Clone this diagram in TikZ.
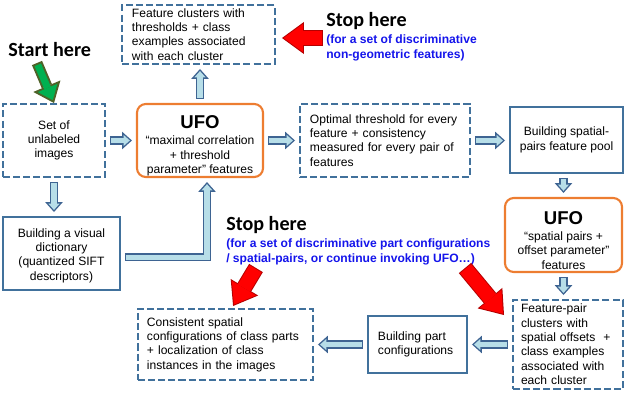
\documentclass[tikz,border=0pt]{standalone}
\usepackage{fontspec}
\setmainfont{Liberation Sans}
\newfontfamily\calibri{Carlito}
\usetikzlibrary{arrows.meta,positioning}
\definecolor{boxblue}{RGB}{65,113,156}
\definecolor{ufoorange}{RGB}{237,125,49}
\definecolor{flowfill}{RGB}{183,222,232}
\definecolor{flowline}{RGB}{62,100,146}
\definecolor{noteblue}{RGB}{20,20,235}
\definecolor{stopred}{RGB}{255,0,0}
\definecolor{stopedge}{RGB}{180,0,0}
\definecolor{startgreen}{RGB}{0,176,80}
\definecolor{startedge}{RGB}{79,98,40}

\begin{document}
\begin{tikzpicture}[x=0.25mm, y=-0.25mm, every node/.style={font=\fontsize{8.6}{10.2}\selectfont, inner sep=0pt},
  dbox/.style={draw=boxblue, line width=1.4pt, dash pattern=on 5pt off 2.2pt},
  sbox/.style={draw=boxblue, line width=1.4pt},
  ufobox/.style={draw=ufoorange, line width=1.5pt, rounded corners=2.2mm, align=center},
  bigtxt/.style={font=\calibri\fontsize{14.3}{16}\selectfont\bfseries},
  notetxt/.style={font=\fontsize{8.6}{10.7}\selectfont\bfseries, text=noteblue, align=left},
  flow/.style={draw=flowline, line width=5.7pt, shorten <=1mm, shorten >=1mm, -{Triangle[length=7pt, width=12.5pt, line width=0pt]}, postaction={draw=flowfill, line width=3.7pt, shorten <=1mm+1pt, shorten >=1mm+1.5pt, -{Triangle[length=4.5pt, width=8pt, line width=0pt]}}},
  stoparr/.style={draw=stopedge, line width=11.4pt, -{Triangle[length=15.6pt, width=22.8pt, line width=0pt]}, postaction={draw=stopred, line width=10pt, shorten <=0.7pt, shorten >=1.2pt, -{Triangle[length=13.7pt, width=20pt, line width=0pt]}}},
  startarr/.style={draw=startedge, line width=7.8pt, -{Triangle[length=13pt, width=21pt, line width=0pt]}, postaction={draw=startgreen, line width=5pt, shorten <=1.4pt, shorten >=2.23pt, -{Triangle[length=9.4pt, width=15.1pt, line width=0pt]}}}]
	\useasboundingbox (0,0) rectangle (624,394);
	% boxes
	\node[dbox, minimum width=38.25mm, minimum height=14.75mm, text width=33.25mm, align=left] (clusters) at (198.5,34.5) {Feature clusters with\\ thresholds + class\\ examples associated\\ with each cluster};
	\node[dbox, minimum width=25.5mm, minimum height=18.25mm, align=center] (setimg) at (54,140.5) {Set of\\ unlabeled\\ images};
	\node[ufobox, minimum width=31.5mm, minimum height=18.25mm] (ufo) at (200,140.5) {{\fontsize{13.2}{14}\selectfont\bfseries\rule{0pt}{17pt}UFO}\\[1.2pt] “maximal correlation\\ + threshold\\ parameter" features};
	\node[dbox, minimum width=42.5mm, minimum height=18.25mm, text width=37.5mm, align=left] (opt) at (385,140.5) {Optimal threshold for every\\ feature + consistency\\ measured for every pair of\\ features};
	\node[sbox, minimum width=28.25mm, minimum height=16.5mm, align=center] (spool) at (566.5,140) {Building spatial-\\ pairs feature pool};
	\node[ufobox, minimum width=29.25mm, minimum height=18.5mm] (ufo2) at (563.5,235) {{\fontsize{13.2}{14}\selectfont\bfseries\rule{0pt}{17pt}UFO}\\[1.2pt] “spatial pairs +\\ offset parameter"\\ features};
	\node[dbox, minimum width=27.5mm, minimum height=22.25mm, text width=23.5mm, align=left] (pairclu) at (568,344.5) {Feature-pair\\ clusters with\\ spatial offsets \ +\\ class examples\\ associated with\\ each cluster};
	\node[sbox, minimum width=24.75mm, minimum height=14.25mm, text width=19.75mm, align=left] (bpart) at (417.5,344.5) {Building part\\ configurations};
	\node[dbox, minimum width=43.75mm, minimum height=17.75mm, text width=39.25mm, align=left] (consist) at (225.5,344.5) {Consistent spatial\\ configurations of class parts\\ + localization of class\\ instances in the images};
	\node[sbox, minimum width=29.25mm, minimum height=18.25mm, align=center] (dict) at (61.5,253.5) {\rule{0pt}{9pt}Building a visual\\ dictionary\\ (quantized SIFT\\ descriptors)};
	% start / stop labels
	\node[bigtxt, anchor=base west] (start) at (8,56) {Start here};
	\node[bigtxt, anchor=base west] (stop1) at (326,26) {Stop here};
	\node[notetxt, below right=2.2mm and 0mm of stop1.base west] (note1) {(for a set of discriminative\\ non-geometric features)};
	\node[bigtxt, anchor=base west] (stop2) at (226,230) {Stop here};
	\node[notetxt, below right=2mm and 0mm of stop2.base west] (note2) {(for a set of discriminative part configurations\\ / spatial-pairs, or continue invoking UFO…)};
	% flow arrows
	\draw[flow] (setimg) -- (ufo);
	\draw[flow] (ufo) -- (opt);
	\draw[flow] (opt.east) -- (opt.east -| spool.west);
	\draw[flow] (ufo.north) -- (ufo.north |- clusters.south);
	\draw[flow] (ufo2.north |- spool.south) -- (ufo2.north);
	\draw[flow] (ufo2.south) -- (ufo2.south |- pairclu.north);
	\draw[flow] (pairclu) -- (bpart);
	\draw[flow] (bpart) -- (consist);
	\draw[flow] (setimg.south) -- (setimg.south |- dict.north);
	\draw[flow] ([yshift=-0.9mm]dict.east) -| ([xshift=1.75mm]ufo.south);
	% start / stop arrows
	\coordinate (starttail) at (37,63);
	\coordinate (stoptail1) at (323,38);
	\coordinate (stoptail2) at (256,268);
	\coordinate (stoptail3) at (465,268);
	\path (clusters.east |- stoptail1) coordinate (stoptip1);
	\draw[startarr] (starttail) -- (setimg.north);
	\draw[stoparr] (stoptail1) -- ([xshift=1.5mm]stoptip1);
	\draw[stoparr] (stoptail2) -- ([xshift=1.9mm,yshift=0.5mm]consist.north);
	\draw[stoparr] (stoptail3) -- ([xshift=-2mm,yshift=-4mm]pairclu.north west);
\end{tikzpicture}
\end{document}
